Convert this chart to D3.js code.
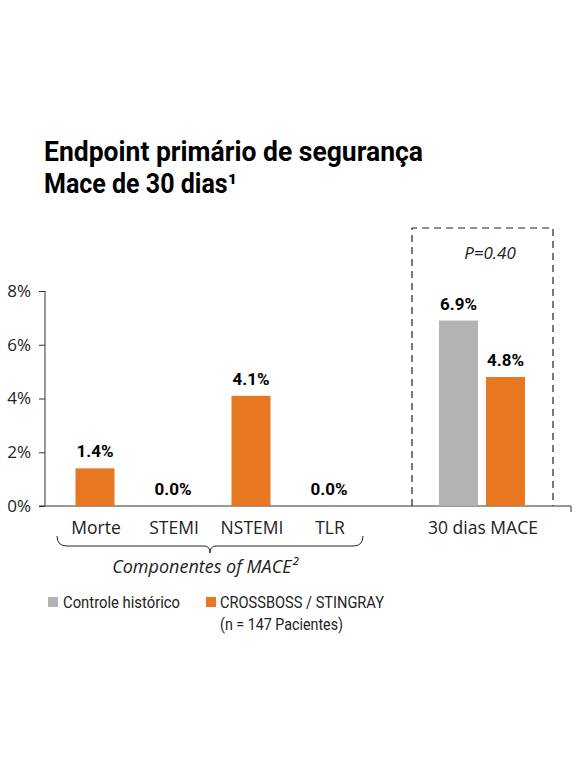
<!DOCTYPE html>
<html>
<head>
<meta charset="utf-8">
<script src="https://cdn.jsdelivr.net/npm/d3@7"></script>
<style>
  body { margin: 0; background: #fff; }
  svg { display: block; }
</style>
</head>
<body>
<script>
// data
var categories = ["Morte", "STEMI", "NSTEMI", "TLR", "", "30 dias MACE"];
var componentValues = [1.4, 0.0, 4.1, 0.0];          // CROSSBOSS / STINGRAY, components
var maceControle = 6.9;                              // Controle histórico, 30 dias MACE
var maceCrossboss = 4.8;                             // CROSSBOSS / STINGRAY, 30 dias MACE
var yTicks = [0, 2, 4, 6, 8];
var seriesNames = ["Controle histórico", "CROSSBOSS / STINGRAY"];
var pValue = "P=0.40";

var orange = "#e87722", grey = "#b2b3b4";
var font = "'Open Sans', sans-serif";
var bold = "Roboto, sans-serif";

var svg = d3.select("body").append("svg")
    .attr("width", 576)
    .attr("height", 767);

// title (squeezed to look like the condensed face of the original)
svg.append("text")
    .attr("x", 44).attr("y", 161)
    .attr("font-family", bold)
    .attr("font-weight", "bold")
    .attr("font-size", "27px")
    .attr("textLength", 379)
    .attr("lengthAdjust", "spacingAndGlyphs")
    .text("Endpoint primário de segurança");
svg.append("text")
    .attr("x", 44).attr("y", 193)
    .attr("font-family", bold)
    .attr("font-weight", "bold")
    .attr("font-size", "27px")
    .attr("textLength", 193)
    .attr("lengthAdjust", "spacingAndGlyphs")
    .text("Mace de 30 dias\u00b9");

// scales
var x = d3.scaleBand()
    .domain(categories)
    .range([56, 524])
    .paddingInner(0.5)
    .paddingOuter(0.25);

var y = d3.scaleLinear()
    .domain([0, 8])
    .range([506, 291]);

var xSub = d3.scaleBand()
    .domain(seriesNames)
    .range([-46, 40])
    .paddingInner(0.17);

var macePos = x("30 dias MACE") + x.bandwidth() / 2;

// dashed box around 30 dias MACE
svg.append("path")
    .attr("d", "M412,506V228H553V506")
    .attr("fill", "none")
    .attr("stroke", "#222")
    .attr("stroke-width", 1.2)
    .attr("stroke-dasharray", "7,5");

svg.append("text")
    .attr("x", 490)
    .attr("y", 259)
    .attr("text-anchor", "middle")
    .attr("font-family", font)
    .attr("font-style", "italic")
    .attr("font-size", "17px")
    .attr("fill", "#222")
    .text(pValue);

// y axis
var yAxis = svg.append("g")
    .attr("transform", "translate(45,0)")
    .call(d3.axisLeft(y).tickValues(yTicks).tickSize(6).tickPadding(8).tickFormat(d => d + "%"));
yAxis.selectAll("line").attr("stroke", "#333");
yAxis.select(".domain").attr("stroke", "#333").attr("d", "M0,291V506");
yAxis.selectAll("text")
    .attr("font-family", font)
    .attr("font-size", "17px")
    .attr("fill", "#222");

// baseline
svg.append("path")
    .attr("d", "M39,506H571v6")
    .attr("fill", "none")
    .attr("stroke", "#333")
    .attr("stroke-width", 1);

// component bars
var comp = categories.slice(0, 4).map((c, i) => ({ cat: c, v: componentValues[i] }));
svg.selectAll(".comp")
    .data(comp)
    .enter()
    .append("rect")
    .attr("class", "comp")
    .attr("x", d => x(d.cat))
    .attr("width", x.bandwidth())
    .attr("y", d => y(d.v))
    .attr("height", d => y(0) - y(d.v))
    .attr("fill", orange);

svg.selectAll(".compLabel")
    .data(comp)
    .enter()
    .append("text")
    .attr("class", "compLabel")
    .attr("x", d => x(d.cat) + x.bandwidth() / 2)
    .attr("y", d => y(d.v) - 11)
    .attr("text-anchor", "middle")
    .attr("font-family", bold)
    .attr("font-weight", "bold")
    .attr("font-size", "17px")
    .text(d => d.v.toFixed(1) + "%");

// mace bars
var mace = [{ s: seriesNames[0], v: maceControle, c: grey }, { s: seriesNames[1], v: maceCrossboss, c: orange }];
svg.selectAll(".mace")
    .data(mace)
    .enter()
    .append("rect")
    .attr("class", "mace")
    .attr("x", d => macePos + xSub(d.s))
    .attr("width", xSub.bandwidth())
    .attr("y", d => y(d.v))
    .attr("height", d => y(0) - y(d.v))
    .attr("fill", d => d.c);

svg.selectAll(".maceLabel")
    .data(mace)
    .enter()
    .append("text")
    .attr("class", "maceLabel")
    .attr("x", d => macePos + xSub(d.s) + xSub.bandwidth() / 2)
    .attr("y", d => y(d.v) - 11)
    .attr("text-anchor", "middle")
    .attr("font-family", bold)
    .attr("font-weight", "bold")
    .attr("font-size", "17px")
    .text(d => d.v.toFixed(1) + "%");

// category labels
svg.selectAll(".catLabel")
    .data(categories.filter(c => c !== ""))
    .enter()
    .append("text")
    .attr("class", "catLabel")
    .attr("x", d => x(d) + x.bandwidth() / 2 + (d === "30 dias MACE" ? -2 : 1))
    .attr("y", 534)
    .attr("text-anchor", "middle")
    .attr("font-family", font)
    .attr("font-size", "17.5px")
    .attr("fill", "#222")
    .text(d => d);

// brace under components
var bx0 = 57, bx1 = 363, bm = 210;
svg.append("path")
    .attr("d", "M" + bx0 + ",536 Q" + bx0 + ",546 " + (bx0 + 10) + ",546 H" + (bm - 6) +
        " Q" + bm + ",546 " + bm + ",553 Q" + bm + ",546 " + (bm + 6) + ",546 H" + (bx1 - 10) +
        " Q" + bx1 + ",546 " + bx1 + ",536")
    .attr("fill", "none")
    .attr("stroke", "#222")
    .attr("stroke-width", 1);

svg.append("text")
    .attr("x", 205)
    .attr("y", 573)
    .attr("text-anchor", "middle")
    .attr("font-family", font)
    .attr("font-style", "italic")
    .attr("font-size", "18px")
    .attr("fill", "#222")
    .text("Componentes of MACE\u00b2");

// legend
var legend = svg.append("g").attr("class", "legend");
legend.selectAll("rect")
    .data([{ x: 48, c: grey }, { x: 206, c: orange }])
    .enter()
    .append("rect")
    .attr("x", d => d.x)
    .attr("y", 597)
    .attr("width", 10)
    .attr("height", 10)
    .attr("fill", d => d.c);

var legendTexts = [
    { t: seriesNames[0], x: 63, y: 608, w: 117 },
    { t: seriesNames[1], x: 220, y: 608, w: 164 },
    { t: "(n = 147 Pacientes)", x: 220, y: 630, w: 123 }
];
legend.selectAll("text")
    .data(legendTexts)
    .enter()
    .append("text")
    .attr("x", d => d.x)
    .attr("y", d => d.y)
    .attr("font-family", bold)
    .attr("font-size", "17px")
    .attr("fill", "#222")
    .attr("textLength", d => d.w)
    .attr("lengthAdjust", "spacingAndGlyphs")
    .text(d => d.t);
</script>
</body>
</html>
